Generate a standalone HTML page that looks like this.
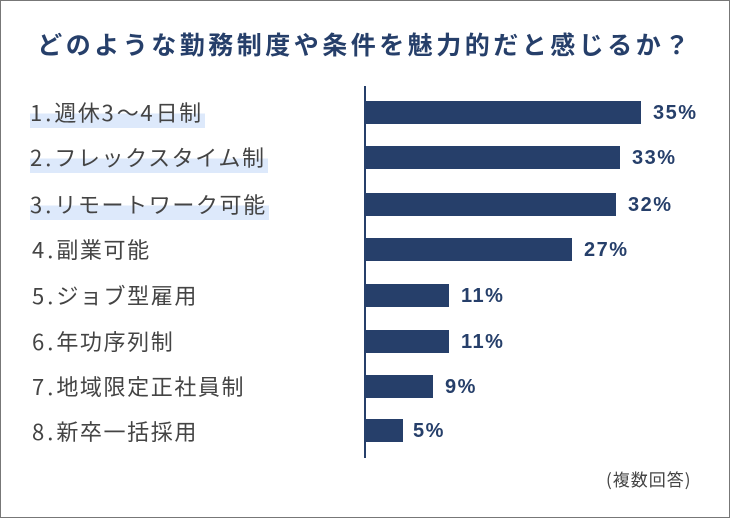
<!DOCTYPE html>
<html><head><meta charset="utf-8"><style>
html,body{margin:0;padding:0}
body{width:730px;height:518px;position:relative;background:#fff;font-family:"Noto Sans CJK JP","Liberation Sans",sans-serif;overflow:hidden}
.frame{position:absolute;left:0;top:0;width:728px;height:516px;border:1px solid #777}
.title{position:absolute;left:0;width:730px;top:27px;text-align:center;font-size:25px;font-weight:bold;color:#263f6a;letter-spacing:3.5px;line-height:34px;white-space:nowrap}
.lab{position:absolute;left:32px;font-size:22px;color:#444;line-height:28px;letter-spacing:1.6px;white-space:nowrap}
.lab b{font-weight:normal;letter-spacing:3px}
.hl{background:linear-gradient(to bottom,transparent 55%,#dde9fb 55%,#dde9fb 100%);padding:0 2px 0 0;margin-left:-2px}
.axis{position:absolute;left:364px;top:86px;width:2px;height:372px;background:#263f6a}
.bar{position:absolute;left:365px;height:23px;background:#263f6a}
.pct{position:absolute;font-family:"Liberation Sans",sans-serif;font-size:20px;font-weight:bold;color:#263f6a;line-height:23px;letter-spacing:1.5px}
.note{position:absolute;left:606px;top:466px;font-size:17px;color:#444;letter-spacing:1px}
</style></head><body>
<div class="frame"></div>
<div class="title">どのような勤務制度や条件を魅力的だと感じるか？</div>
<div class="axis"></div>

<div class="lab" style="top:98px"><span class="hl"><b>1.</b>週休<b>3</b>～<b>4</b>日制</span></div>
<div class="lab" style="top:143px"><span class="hl"><b>2.</b>フレックスタイム制</span></div>
<div class="lab" style="top:190px"><span class="hl"><b>3.</b>リモートワーク可能</span></div>
<div class="lab" style="top:235px"><b>4.</b>副業可能</div>
<div class="lab" style="top:281px"><b>5.</b>ジョブ型雇用</div>
<div class="lab" style="top:327px"><b>6.</b>年功序列制</div>
<div class="lab" style="top:372px"><b>7.</b>地域限定正社員制</div>
<div class="lab" style="top:417px"><b>8.</b>新卒一括採用</div>

<div class="bar" style="top:101px;width:276px"></div><div class="pct" style="top:102px;left:653px">35%</div>
<div class="bar" style="top:146px;width:255px"></div><div class="pct" style="top:147px;left:632px">33%</div>
<div class="bar" style="top:193px;width:251px"></div><div class="pct" style="top:194px;left:628px">32%</div>
<div class="bar" style="top:238px;width:207px"></div><div class="pct" style="top:239px;left:584px">27%</div>
<div class="bar" style="top:284px;width:84px"></div><div class="pct" style="top:285px;left:461px">11%</div>
<div class="bar" style="top:330px;width:84px"></div><div class="pct" style="top:331px;left:461px">11%</div>
<div class="bar" style="top:375px;width:68px"></div><div class="pct" style="top:376px;left:445px">9%</div>
<div class="bar" style="top:419px;width:38px"></div><div class="pct" style="top:420px;left:413px">5%</div>

<div class="note">(複数回答)</div>
</body></html>
